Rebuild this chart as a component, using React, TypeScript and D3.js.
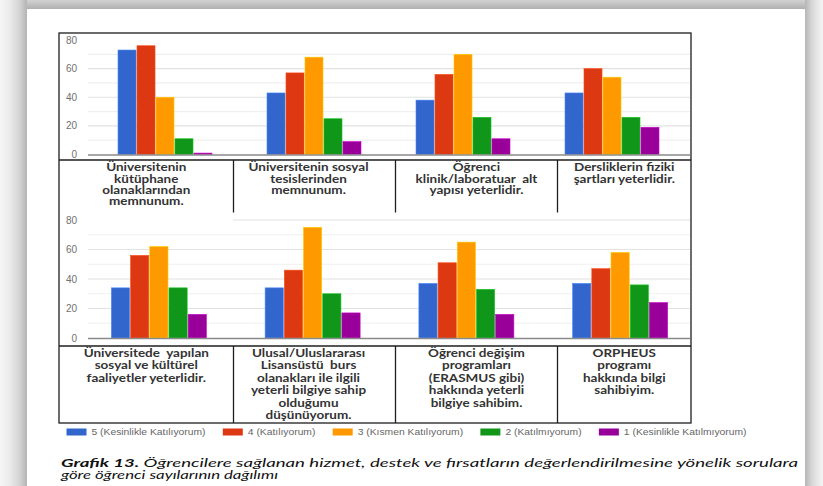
import React, { useMemo } from 'react';
import * as d3 from 'd3';

const series = [
  '5 (Kesinlikle Katılıyorum)',
  '4 (Katılıyorum)',
  '3 (Kısmen Katılıyorum)',
  '2 (Katılmıyorum)',
  '1 (Kesinlikle Katılmıyorum)',
];
const colors = ['#3366cc', '#dc3912', '#ff9900', '#109618', '#990099'];

const topCategories = ['kutuphane', 'sosyal', 'klinik', 'derslik'];
const topLabels: string[][] = [
  ['Üniversitenin', 'kütüphane', 'olanaklarından', 'memnunum.'],
  ['Üniversitenin sosyal', 'tesislerinden', 'memnunum.'],
  ['Öğrenci', 'klinik/laboratuar  alt', 'yapısı yeterlidir.'],
  ['Dersliklerin fiziki', 'şartları yeterlidir.'],
];
const topValues: number[][] = [
  [73, 76, 40, 11, 1],
  [43, 57, 68, 25, 9],
  [38, 56, 70, 26, 11],
  [43, 60, 54, 26, 19],
];

const bottomCategories = ['faaliyet', 'burs', 'erasmus', 'orpheus'];
const bottomLabels: string[][] = [
  ['Üniversitede  yapılan', 'sosyal ve kültürel', 'faaliyetler yeterlidir.'],
  ['Ulusal/Uluslararası', 'Lisansüstü  burs', 'olanakları ile ilgili', 'yeterli bilgiye sahip', 'olduğumu', 'düşünüyorum.'],
  ['Öğrenci değişim', 'programları', '(ERASMUS gibi)', 'hakkında yeterli', 'bilgiye sahibim.'],
  ['ORPHEUS', 'programı', 'hakkında bilgi', 'sahibiyim.'],
];
const bottomValues: number[][] = [
  [34, 56, 62, 34, 16],
  [34, 46, 75, 30, 17],
  [37, 51, 65, 33, 16],
  [37, 47, 58, 36, 24],
];

const yTicks = [0, 20, 40, 60, 80];
const gridTicks = [10, 20, 30, 40, 50, 60, 70];

const captionBold = 'Grafik 13.';
const captionLine1 = ' Öğrencilere sağlanan hizmet, destek ve fırsatların değerlendirilmesine yönelik sorulara';
const captionLine2 = 'göre öğrenci sayılarının dağılımı';

const W = 823;
const H = 486;
const boxL = 59;
const boxR = 691;
const colEdges = [59, 233.5, 395.5, 557.5, 691];

const LABEL_FONT_FAMILY = 'Lato';
const LABEL_SIZE = 10.6;
const LEGEND_SIZE = 9;

type Panel = {
  cats: string[];
  labels: string[][];
  values: number[][];
  chartBottom: number;
  labelBottom: number;
  y0: number;
  y80: number;
  xr: [number, number];
  groupW: number;
  labelY: number;
  lineH: number;
  grid80From: number | null;
  labelSx: number;
};

function measure(text: string, font: string, fallbackPerChar: number): number {
  try {
    const c = document.createElement('canvas');
    const ctx = c.getContext('2d');
    if (!ctx) return text.length * fallbackPerChar;
    ctx.font = font;
    return ctx.measureText(text).width;
  } catch (e) {
    return text.length * fallbackPerChar;
  }
}

function PanelView({ p }: { p: Panel }) {
  const x = d3.scaleBand<string>().domain(p.cats).range(p.xr).padding(0);
  const bw = x.bandwidth();
  const inner = d3
    .scaleBand<number>()
    .domain(d3.range(series.length))
    .range([(bw - p.groupW) / 2, (bw + p.groupW) / 2])
    .paddingInner(0.05);
  const y = d3.scaleLinear().domain([0, 80]).range([p.y0, p.y80]);
  return (
    <g>
      {gridTicks.map((t) => (
        <line key={'g' + t} x1={88} x2={690} y1={y(t)} y2={y(t)}
          stroke={t % 20 === 0 ? '#e2e2e2' : '#efefef'} strokeWidth={1.2} />
      ))}
      {p.grid80From !== null && (
        <line x1={p.grid80From} x2={690} y1={y(80)} y2={y(80)} stroke="#e2e2e2" strokeWidth={1.2} />
      )}
      {yTicks.map((t) => (
        <text key={'t' + t} x={77} y={y(t)} dy="0.35em" textAnchor="end"
          fontFamily="'Liberation Sans', Arial, sans-serif" fontSize={10} fill="#707070">{t}</text>
      ))}
      {p.values.map((vals, gi) => (
        <g key={'grp' + gi} transform={`translate(${x(p.cats[gi])},0)`}>
          {vals.map((v, si) => (
            <rect key={si} x={inner(si)} width={inner.bandwidth()} y={y(v)} height={y(0) - y(v)}
              fill={colors[si]} stroke={d3.color(colors[si])!.brighter(0.8).formatHex()} strokeWidth={0.6} />
          ))}
        </g>
      ))}
      <line x1={88} x2={690} y1={y(0) + 0.5} y2={y(0) + 0.5} stroke="#8a8a8a" strokeWidth={1.4} />
      <line x1={boxL} x2={boxR} y1={p.chartBottom} y2={p.chartBottom} stroke="#1e1e1e" strokeWidth={1.3} />
      {colEdges.slice(1, -1).map((cx) => (
        <line key={'d' + cx} x1={cx} x2={cx} y1={p.chartBottom} y2={p.labelBottom} stroke="#1e1e1e" strokeWidth={1.3} />
      ))}
      {p.labels.map((lines, ci) => {
        const cx = (colEdges[ci] + colEdges[ci + 1]) / 2 - (ci === 1 ? 6 : 0);
        return (
          <text key={'l' + ci} transform={`translate(${cx},0) scale(${p.labelSx},1)`} textAnchor="middle"
            fontFamily={`${LABEL_FONT_FAMILY}, 'Open Sans', sans-serif`}
            fontWeight={700} fontSize={LABEL_SIZE} fill="#333333" style={{ whiteSpace: 'pre' }}>
            {lines.map((ln, li) => (
              <tspan key={li} x={0} y={p.labelY + li * p.lineH}>{ln}</tspan>
            ))}
          </text>
        );
      })}
    </g>
  );
}

export default function App() {
  const legendFont = `${LEGEND_SIZE}px 'Liberation Sans', Arial, sans-serif`;
  const layout = useMemo(() => {
    const labelFont = `700 ${LABEL_SIZE}px ${LABEL_FONT_FAMILY}`;
    const sx = 120 / measure('Üniversitenin sosyal', labelFont, 5.2);
    const rawW = series.map((s) => measure(s, legendFont, 4.4));
    const k = 114 / rawW[0];
    const widths = rawW.map((w) => w * k);
    let cx = 66.5;
    const pos = widths.map((w) => {
      const start = cx;
      cx = start + 20 + 5 + w + 17.3;
      return start;
    });
    return { sx, widths, pos };
  }, []);

  const panels: Panel[] = [
    {
      cats: topCategories, labels: topLabels, values: topValues,
      chartBottom: 160, labelBottom: 212.5,
      y0: 154.5, y80: 40, xr: [90.5, 686.5], groupW: 94,
      labelY: 171.5, lineH: 11.2, grid80From: null, labelSx: layout.sx,
    },
    {
      cats: bottomCategories, labels: bottomLabels, values: bottomValues,
      chartBottom: 346, labelBottom: 423,
      y0: 338, y80: 220, xr: [82, 697], groupW: 95,
      labelY: 357, lineH: 12.4, grid80From: 233, labelSx: layout.sx,
    },
  ];

  return (
    <svg width={W} height={H} viewBox={`0 0 ${W} ${H}`}
      style={{ position: 'absolute', left: 0, top: 0, display: 'block' }}>
      <defs>
        <linearGradient id="shL" x1="0" x2="1" y1="0" y2="0">
          <stop offset="0" stopColor="#f6f6f6" />
          <stop offset="0.35" stopColor="#ebebeb" />
          <stop offset="0.7" stopColor="#d6d6d6" />
          <stop offset="1" stopColor="#b4b4b4" />
        </linearGradient>
        <linearGradient id="shR" x1="0" x2="1" y1="0" y2="0">
          <stop offset="0" stopColor="#b6b6b6" />
          <stop offset="0.35" stopColor="#d4d4d4" />
          <stop offset="0.7" stopColor="#e8e8e8" />
          <stop offset="1" stopColor="#f4f4f4" />
        </linearGradient>
        <linearGradient id="shT" x1="0" x2="0" y1="0" y2="1">
          <stop offset="0" stopColor="#d2d2d2" />
          <stop offset="1" stopColor="#b0b0b0" />
        </linearGradient>
      </defs>
      <rect x={0} y={0} width={W} height={H} fill="#ffffff" />
      <rect x={0} y={0} width={27} height={H} fill="url(#shL)" />
      <rect x={805} y={0} width={18} height={H} fill="url(#shR)" />
      <rect x={27} y={0} width={778} height={9} fill="url(#shT)" />

      {panels.map((p, i) => (
        <PanelView key={i} p={p} />
      ))}
      <rect x={boxL} y={33} width={boxR - boxL} height={423 - 33} fill="none" stroke="#1e1e1e" strokeWidth={1.3} />

      {series.map((s, i) => (
        <g key={'lg' + i}>
          <rect x={layout.pos[i]} y={428.5} width={20} height={7} fill={colors[i]} />
          <text x={layout.pos[i] + 25} y={432} dy="0.35em" fontFamily="'Liberation Sans', Arial, sans-serif"
            fontSize={LEGEND_SIZE} fill="#666666" textLength={layout.widths[i]}
            lengthAdjust="spacingAndGlyphs">{s}</text>
        </g>
      ))}

      <text x={61} y={467} fontFamily="Lato, 'Open Sans', sans-serif" fontStyle="italic" fontSize={12}
        fill="#111111" textLength={737} lengthAdjust="spacingAndGlyphs" style={{ whiteSpace: 'pre' }}>
        <tspan fontWeight={700}>{captionBold}</tspan>
        <tspan>{captionLine1}</tspan>
      </text>
      <text x={61} y={478.5} fontFamily="Lato, 'Open Sans', sans-serif" fontStyle="italic" fontSize={12}
        fill="#111111" textLength={217} lengthAdjust="spacingAndGlyphs">{captionLine2}</text>
    </svg>
  );
}
